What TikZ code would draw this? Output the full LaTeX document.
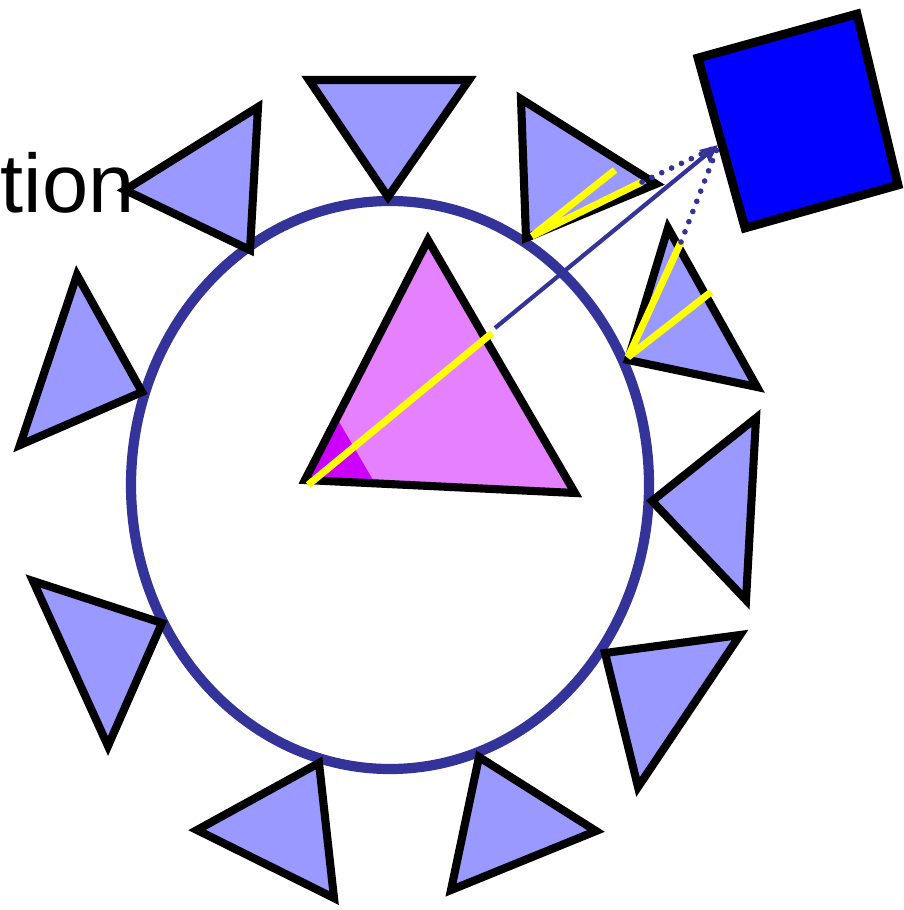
\documentclass[tikz,border=0pt]{standalone}
\usepackage{fontspec}
\setmainfont{Liberation Sans}
\usetikzlibrary{arrows.meta}
\definecolor{tri}{HTML}{9999FF}
\definecolor{ring}{HTML}{333399}
\definecolor{pinkf}{HTML}{E580FF}
\definecolor{pinkd}{HTML}{CC00FF}
\definecolor{sq}{HTML}{0000FF}
\definecolor{yel}{HTML}{FFFF00}
\begin{document}
\begin{tikzpicture}[x=0.01cm,y=-0.01cm,
  tribox/.style={draw=black, fill=tri, line width=2.3pt},
  ringline/.style={draw=ring, line width=2.9pt},
  yline/.style={draw=yel, line width=2pt, line join=bevel},
  dotline/.style={draw=ring, line width=1.6pt, line cap=round, dash pattern=on 0pt off 3.1pt},
  arrowline/.style={draw=ring, line width=1.2pt, -{Stealth[length=5pt,width=4.4pt,inset=0.6pt]}}]
\useasboundingbox (0,0) rectangle (904,910);

% ring
\path[ringline] (390,485) ellipse [x radius=259, y radius=284];

% label
\node[anchor=base west, inner sep=0pt, font=\fontsize{23.6pt}{28pt}\selectfont] (lbl) at (0,213) {tion};

% surrounding triangles
\path[tribox] (309,80) -- (469,80) -- (388,197) -- cycle;
\path[tribox] (125,190) -- (258,107) -- (250,250) -- cycle;
\path[tribox] (77,275) -- (142,392) -- (20,445) -- cycle;
\path[tribox] (33,581) -- (162,623) -- (108,746) -- cycle;
\path[tribox] (197,830) -- (319,763) -- (334,898) -- cycle;
\path[tribox] (479,757) -- (596,831) -- (451,890) -- cycle;
\path[tribox] (605,653) -- (740,635) -- (638,787) -- cycle;
\path[tribox] (652,501) -- (756,418) -- (746,600) -- cycle;
\path[tribox] (521,99) -- (656,184) -- (526,238) -- cycle;
\path[tribox] (668,228) -- (757,387) -- (628,360) -- cycle;

% central triangle
\fill[pinkf] (428,240) -- (575,493) -- (305,480) -- cycle;
\fill[pinkd] (305,480) -- (338,420) -- (373,480) -- cycle;
\draw[line width=2.3pt] (428,240) -- (575,493) -- (305,480) -- cycle;

% square
\path[draw=black, fill=sq, line width=2.5pt] (698,58) -- (857,14) -- (898,185) -- (745,228) -- cycle;

% named points
\coordinate (c) at (308,485);
\coordinate (e) at (492,333);
\coordinate (s) at (495,328);
\coordinate (t) at (718,145);
\coordinate (a0) at (532,236);
\coordinate (a1) at (615,170);
\coordinate (a2) at (642,182);
\coordinate (b0) at (628,357);
\coordinate (b1) at (681,242);
\coordinate (b2) at (711,292);
\coordinate (d1) at (716,147);
\coordinate (d2) at (717,149);

% yellow lines
\path[yline] (c) -- (e);
\path[yline] (a1) -- (a0) -- (a2);
\path[yline] (b1) -- (b0) -- (b2);

% arrow and dotted lines
\path[arrowline] (s) -- (t);
\path[dotline] (a2) -- (d1);
\path[dotline] (b1) -- (d2);
\end{tikzpicture}
\end{document}
